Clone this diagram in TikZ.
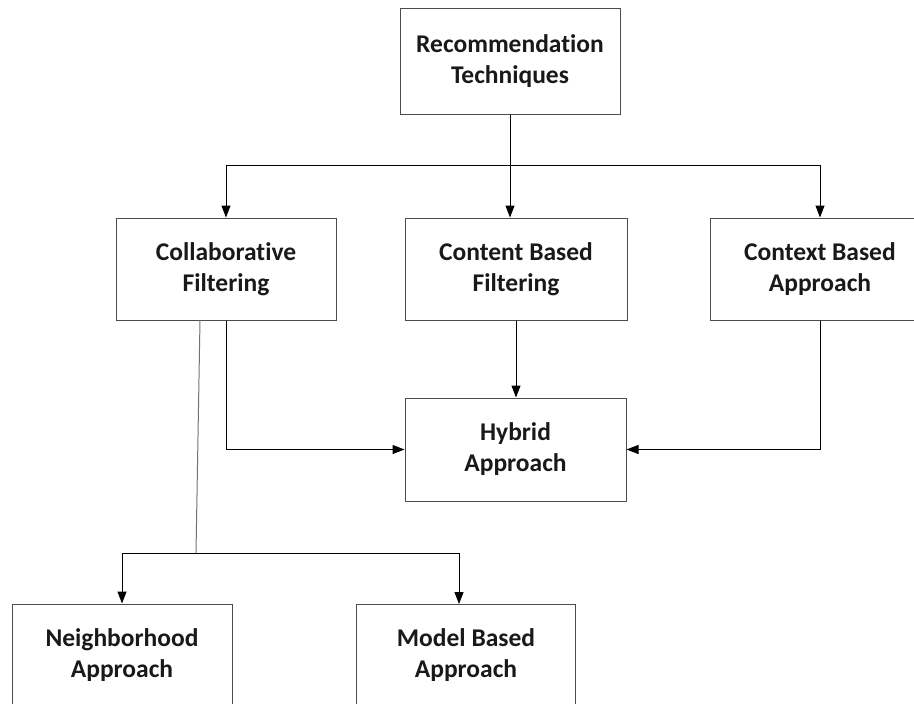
\documentclass[tikz,border=0pt]{standalone}
\usepackage{fontspec}
\setmainfont[Ligatures=NoCommon]{Carlito}
\usetikzlibrary{arrows.meta}
\begin{document}
\begin{tikzpicture}[x=1pt,y=-1pt,
  box/.style={draw=black!70,line width=1pt,rectangle,inner sep=0pt,align=center,
    font=\bfseries\fontsize{25.5}{31}\selectfont,text=black!90},
  conn/.style={draw=black,line width=1pt},
  arr/.style={conn,-{Triangle[length=12pt,width=9pt]}},
  thin/.style={draw=black!55,line width=1pt}]
\useasboundingbox (0,0) rectangle (914,704);
\node[box,minimum width=220pt,minimum height=106pt] (rec) at (510,61) {Recommendation\\Techniques};
\node[box,minimum width=220pt,minimum height=102pt] (col) at (226,269) {Collaborative\\Filtering};
\node[box,minimum width=222pt,minimum height=102pt] (con) at (516,269) {Content Based\\Filtering};
\node[box,minimum width=220pt,minimum height=102pt] (ctx) at (820,269) {Context Based\\Approach};
\node[box,minimum width=221pt,minimum height=103pt] (hyb) at (515.5,449.5) {Hybrid\\Approach};
\node[box,minimum width=220pt,minimum height=102pt] (nei) at (122,655) {Neighborhood\\Approach};
\node[box,minimum width=219pt,minimum height=102pt] (mod) at (466,655) {Model Based\\Approach};
\coordinate (t) at (510,165);
\coordinate (b) at (196,553);
% top distribution
\draw[arr] (rec.south) -- (rec.south |- con.north);
\draw[conn] (col.north |- t) -- (ctx.north |- t);
\draw[arr] (col.north |- t) -- (col.north);
\draw[arr] (ctx.north |- t) -- (ctx.north);
% to hybrid
\draw[arr] (con.south) -- (con.south |- hyb.north);
\draw[arr] (col.south) -- (col.south |- hyb.west) -- (hyb.west);
\draw[arr] (ctx.south) -- (ctx.south |- hyb.east) -- (hyb.east);
% collaborative subtypes
\draw[thin] (200,320) -- (b);
\draw[conn] (nei.north |- b) -- (459,553);
\draw[arr] (nei.north |- b) -- (nei.north);
\draw[arr] (459,553) -- (459,604);
\end{tikzpicture}
\end{document}
